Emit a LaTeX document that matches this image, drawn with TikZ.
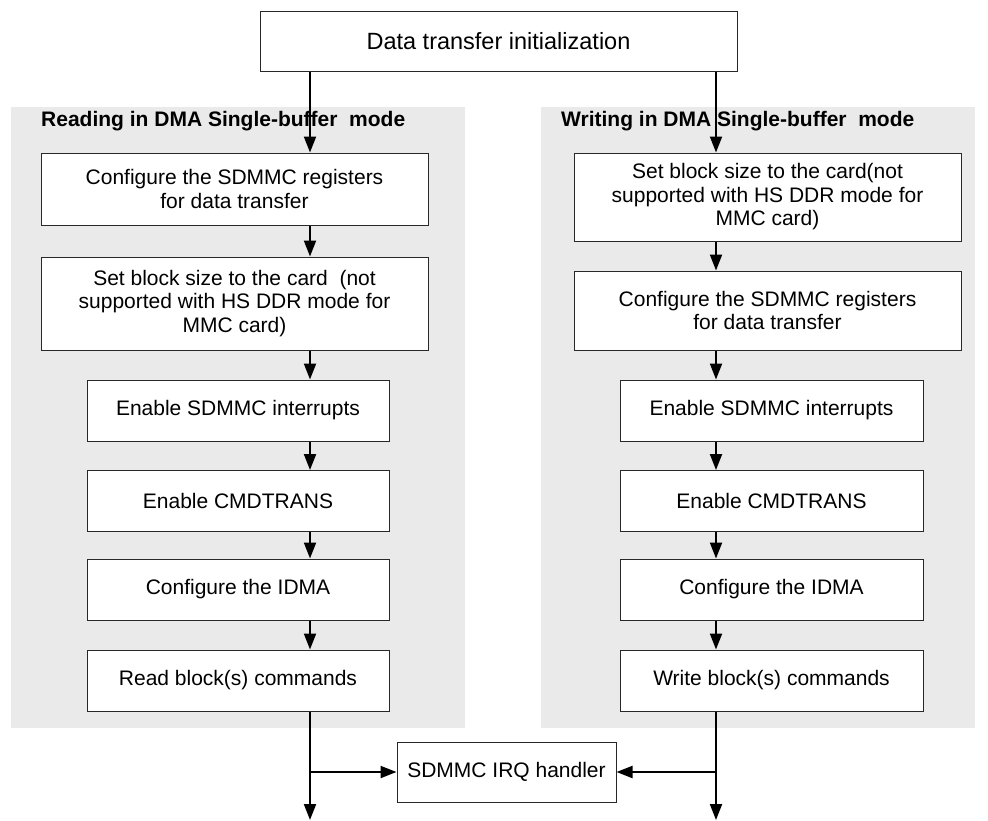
\documentclass[tikz,border=0pt]{standalone}
\usepackage{fontspec}
\setmainfont{Liberation Sans}
\usetikzlibrary{arrows.meta}
\definecolor{panelgray}{RGB}{234,234,234}
\definecolor{boxline}{RGB}{40,40,40}
\begin{document}
\begin{tikzpicture}[x=1pt,y=-1pt,
  panel/.style={fill=panelgray,draw=none},
  stepbox/.style={draw=boxline,line width=1pt,fill=white,align=center,inner sep=0pt,
    font=\fontsize{21}{23.5}\selectfont},
  header/.style={anchor=west,inner sep=0pt,font=\fontsize{21}{24}\selectfont\bfseries},
  flow/.style={line width=2pt,-{Triangle[length=16pt,width=12pt]}}]
\useasboundingbox (0,0) rectangle (988,820);

% background panels of the two branches
\fill[panel] (11,107) rectangle (465,728);
\fill[panel] (541,107) rectangle (975,728);
\node[header] (hl) at (41,121) {Reading in DMA Single-buffer\ \ mode};
\node[header] (hr) at (561,121) {Writing in DMA Single-buffer\ \ mode};

% common start
\node[stepbox,minimum width=477,minimum height=60,font=\fontsize{23.5}{26}\selectfont]
  (top) at (498.5,41) {Data transfer initialization};

% reading branch
\node[stepbox,minimum width=387,minimum height=72] (L1) at (234.5,189)
  {Configure the SDMMC registers\\for data transfer};
\node[stepbox,minimum width=387,minimum height=93] (L2) at (234.5,303.5)
  {Set block size to the card\ \ (not\\supported with HS DDR mode for\\MMC card)};
\node[stepbox,minimum width=302,minimum height=61] (L3) at (238,410.5) {Enable SDMMC interrupts};
\node[stepbox,minimum width=302,minimum height=61] (L4) at (238,501) {Enable CMDTRANS};
\node[stepbox,minimum width=302,minimum height=61] (L5) at (238,589.5) {Configure the IDMA};
\node[stepbox,minimum width=302,minimum height=61] (L6) at (238,680.5) {Read block(s) commands};

% writing branch
\node[stepbox,minimum width=387,minimum height=88] (R1) at (767.5,197)
  {Set block size to the card(not\\supported with HS DDR mode for\\MMC card)};
\node[stepbox,minimum width=387,minimum height=79] (R2) at (767.5,310.5)
  {Configure the SDMMC registers\\for data transfer};
\node[stepbox,minimum width=303,minimum height=61] (R3) at (771.5,410.5) {Enable SDMMC interrupts};
\node[stepbox,minimum width=303,minimum height=61] (R4) at (771.5,501) {Enable CMDTRANS};
\node[stepbox,minimum width=303,minimum height=61] (R5) at (771.5,589.5) {Configure the IDMA};
\node[stepbox,minimum width=303,minimum height=61] (R6) at (771.5,680.5) {Write block(s) commands};

% interrupt handler
\node[stepbox,minimum width=219,minimum height=60] (irq) at (506.5,772) {SDMMC IRQ handler};

% flow lines
\coordinate (xl) at (310,0);
\coordinate (xr) at (716,0);
\coordinate (endl) at (310,820);
\coordinate (endr) at (716,820);

\draw[flow] (top.south -| xl) -- (L1.north -| xl);
\draw[flow] (L1.south -| xl) -- (L2.north -| xl);
\draw[flow] (L2.south -| xl) -- (L3.north -| xl);
\draw[flow] (L3.south -| xl) -- (L4.north -| xl);
\draw[flow] (L4.south -| xl) -- (L5.north -| xl);
\draw[flow] (L5.south -| xl) -- (L6.north -| xl);
\draw[flow] (L6.south -| xl) -- (endl);

\draw[flow] (top.south -| xr) -- (R1.north -| xr);
\draw[flow] (R1.south -| xr) -- (R2.north -| xr);
\draw[flow] (R2.south -| xr) -- (R3.north -| xr);
\draw[flow] (R3.south -| xr) -- (R4.north -| xr);
\draw[flow] (R4.south -| xr) -- (R5.north -| xr);
\draw[flow] (R5.south -| xr) -- (R6.north -| xr);
\draw[flow] (R6.south -| xr) -- (endr);

\draw[flow] (irq.west -| xl) -- (irq.west);
\draw[flow] (irq.east -| xr) -- (irq.east);
\end{tikzpicture}
\end{document}
